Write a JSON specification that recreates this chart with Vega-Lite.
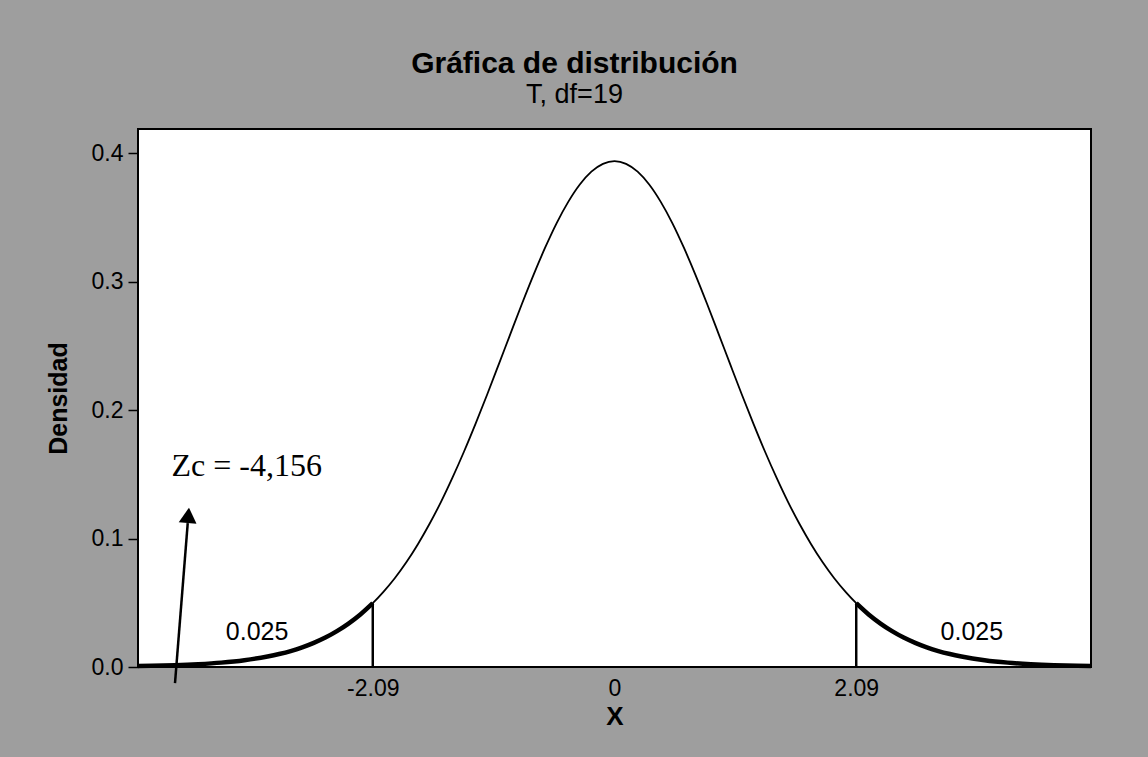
{
  "$schema": "https://vega.github.io/schema/vega-lite/v6.json",
  "width": 953,
  "height": 538,
  "autosize": "none",
  "padding": {"left": 138, "top": 129, "right": 57, "bottom": 90},
  "background": "#9e9e9e",
  "title": {
    "text": "Gráfica de distribución",
    "subtitle": "T, df=19",
    "anchor": "middle",
    "dx": -40,
    "font": "Liberation Sans",
    "fontSize": 30,
    "fontWeight": "bold",
    "color": "black",
    "subtitleFont": "Liberation Sans",
    "subtitleFontSize": 27,
    "subtitleColor": "black",
    "subtitlePadding": 3,
    "offset": 21
  },
  "datasets": {
    "curve": [
      {"x": -4.12, "y": 0.0007, "seg": "left"},
      {"x": -4.0, "y": 0.0009, "seg": "left"},
      {"x": -3.8, "y": 0.0014, "seg": "left"},
      {"x": -3.6, "y": 0.0022, "seg": "left"},
      {"x": -3.4, "y": 0.0034, "seg": "left"},
      {"x": -3.2, "y": 0.0053, "seg": "left"},
      {"x": -3.0, "y": 0.0082, "seg": "left"},
      {"x": -2.9, "y": 0.0101, "seg": "left"},
      {"x": -2.8, "y": 0.0124, "seg": "left"},
      {"x": -2.7, "y": 0.0153, "seg": "left"},
      {"x": -2.6, "y": 0.0188, "seg": "left"},
      {"x": -2.5, "y": 0.0229, "seg": "left"},
      {"x": -2.4, "y": 0.0279, "seg": "left"},
      {"x": -2.3, "y": 0.0338, "seg": "left"},
      {"x": -2.2, "y": 0.0407, "seg": "left"},
      {"x": -2.09, "y": 0.0497, "seg": "left"},
      {"x": -2.0, "y": 0.0583, "seg": "center"},
      {"x": -1.9, "y": 0.0691, "seg": "center"},
      {"x": -1.8, "y": 0.0815, "seg": "center"},
      {"x": -1.7, "y": 0.0956, "seg": "center"},
      {"x": -1.6, "y": 0.1113, "seg": "center"},
      {"x": -1.5, "y": 0.1285, "seg": "center"},
      {"x": -1.4, "y": 0.1475, "seg": "center"},
      {"x": -1.3, "y": 0.1679, "seg": "center"},
      {"x": -1.2, "y": 0.1896, "seg": "center"},
      {"x": -1.1, "y": 0.2123, "seg": "center"},
      {"x": -1.0, "y": 0.2357, "seg": "center"},
      {"x": -0.9, "y": 0.2593, "seg": "center"},
      {"x": -0.8, "y": 0.2827, "seg": "center"},
      {"x": -0.7, "y": 0.3052, "seg": "center"},
      {"x": -0.6, "y": 0.3263, "seg": "center"},
      {"x": -0.5, "y": 0.3455, "seg": "center"},
      {"x": -0.4, "y": 0.362, "seg": "center"},
      {"x": -0.3, "y": 0.3755, "seg": "center"},
      {"x": -0.2, "y": 0.3855, "seg": "center"},
      {"x": -0.1, "y": 0.3916, "seg": "center"},
      {"x": 0.0, "y": 0.3937, "seg": "center"},
      {"x": 0.1, "y": 0.3916, "seg": "center"},
      {"x": 0.2, "y": 0.3855, "seg": "center"},
      {"x": 0.3, "y": 0.3755, "seg": "center"},
      {"x": 0.4, "y": 0.362, "seg": "center"},
      {"x": 0.5, "y": 0.3455, "seg": "center"},
      {"x": 0.6, "y": 0.3263, "seg": "center"},
      {"x": 0.7, "y": 0.3052, "seg": "center"},
      {"x": 0.8, "y": 0.2827, "seg": "center"},
      {"x": 0.9, "y": 0.2593, "seg": "center"},
      {"x": 1.0, "y": 0.2357, "seg": "center"},
      {"x": 1.1, "y": 0.2123, "seg": "center"},
      {"x": 1.2, "y": 0.1896, "seg": "center"},
      {"x": 1.3, "y": 0.1679, "seg": "center"},
      {"x": 1.4, "y": 0.1475, "seg": "center"},
      {"x": 1.5, "y": 0.1285, "seg": "center"},
      {"x": 1.6, "y": 0.1113, "seg": "center"},
      {"x": 1.7, "y": 0.0956, "seg": "center"},
      {"x": 1.8, "y": 0.0815, "seg": "center"},
      {"x": 1.9, "y": 0.0691, "seg": "center"},
      {"x": 2.0, "y": 0.0583, "seg": "center"},
      {"x": 2.09, "y": 0.0497, "seg": "right"},
      {"x": 2.2, "y": 0.0407, "seg": "right"},
      {"x": 2.3, "y": 0.0338, "seg": "right"},
      {"x": 2.4, "y": 0.0279, "seg": "right"},
      {"x": 2.5, "y": 0.0229, "seg": "right"},
      {"x": 2.6, "y": 0.0188, "seg": "right"},
      {"x": 2.7, "y": 0.0153, "seg": "right"},
      {"x": 2.8, "y": 0.0124, "seg": "right"},
      {"x": 2.9, "y": 0.0101, "seg": "right"},
      {"x": 3.0, "y": 0.0082, "seg": "right"},
      {"x": 3.2, "y": 0.0053, "seg": "right"},
      {"x": 3.4, "y": 0.0034, "seg": "right"},
      {"x": 3.6, "y": 0.0022, "seg": "right"},
      {"x": 3.8, "y": 0.0014, "seg": "right"},
      {"x": 4.0, "y": 0.0009, "seg": "right"},
      {"x": 4.12, "y": 0.0007, "seg": "right"}
    ],
    "cuts": [
      {"x": -2.09, "y": 0, "y2": 0.0497},
      {"x": 2.09, "y": 0, "y2": 0.0497}
    ],
    "areas": [
      {"x": -3.09, "y": 0.027, "label": "0.025"},
      {"x": 3.09, "y": 0.027, "label": "0.025"}
    ],
    "zc": [
      {"x": -3.83, "y": 0.149, "label": "Zc = -4,156"}
    ],
    "arrow": [
      {"x": -3.80, "y": -0.0125, "x2": -3.69, "y2": 0.112}
    ],
    "head": [
      {"x": -3.685, "y": 0.118}
    ]
  },
  "layer": [
    {
      "data": {"name": "curve"},
      "mark": {"type": "line", "color": "black", "strokeWidth": 1.8, "interpolate": "monotone"},
      "encoding": {
        "x": {
          "field": "x",
          "type": "quantitative",
          "scale": {"domain": [-4.12, 4.12], "nice": false, "zero": false},
          "axis": {
            "values": [-2.09, 0, 2.09],
            "labelExpr": "datum.value == 0 ? '0' : (datum.value < 0 ? '-' : '') + format(abs(datum.value), '.2f')",
            "ticks": false,
            "labelPadding": 10,
            "labelFont": "Liberation Sans",
            "labelFontSize": 23,
            "title": "X",
            "titleFont": "Liberation Sans",
            "titleFontSize": 26,
            "titleFontWeight": "bold",
            "titlePadding": 3
          }
        },
        "y": {
          "field": "y",
          "type": "quantitative",
          "scale": {"domain": [0, 0.4187], "nice": false},
          "axis": {
            "values": [0, 0.1, 0.2, 0.3, 0.4],
            "format": ".1f",
            "tickSize": 10,
            "tickWidth": 1.5,
            "tickColor": "black",
            "labelPadding": 5,
            "labelFont": "Liberation Sans",
            "labelFontSize": 23,
            "title": "Densidad",
            "titleFont": "Liberation Sans",
            "titleFontSize": 25,
            "titleFontWeight": "bold",
            "titlePadding": 20
          }
        }
      }
    },
    {
      "data": {"name": "curve"},
      "transform": [{"filter": "datum.seg != 'center'"}],
      "mark": {"type": "line", "color": "black", "strokeWidth": 4.5, "interpolate": "monotone"},
      "encoding": {
        "x": {"field": "x", "type": "quantitative"},
        "y": {"field": "y", "type": "quantitative"},
        "detail": {"field": "seg"}
      }
    },
    {
      "data": {"name": "cuts"},
      "mark": {"type": "rule", "color": "black", "strokeWidth": 2.5},
      "encoding": {
        "x": {"field": "x", "type": "quantitative"},
        "y": {"field": "y", "type": "quantitative"},
        "y2": {"field": "y2"}
      }
    },
    {
      "data": {"name": "areas"},
      "mark": {"type": "text", "font": "Liberation Sans", "fontSize": 25, "color": "black", "align": "center", "baseline": "middle"},
      "encoding": {
        "x": {"field": "x", "type": "quantitative"},
        "y": {"field": "y", "type": "quantitative"},
        "text": {"field": "label"}
      }
    },
    {
      "data": {"name": "zc"},
      "mark": {"type": "text", "font": "Liberation Serif", "fontSize": 32, "color": "black", "align": "left", "baseline": "alphabetic"},
      "encoding": {
        "x": {"field": "x", "type": "quantitative"},
        "y": {"field": "y", "type": "quantitative"},
        "text": {"field": "label"}
      }
    },
    {
      "data": {"name": "arrow"},
      "mark": {"type": "rule", "color": "black", "strokeWidth": 2.5},
      "encoding": {
        "x": {"field": "x", "type": "quantitative"},
        "y": {"field": "y", "type": "quantitative"},
        "x2": {"field": "x2"},
        "y2": {"field": "y2"}
      }
    },
    {
      "data": {"name": "head"},
      "mark": {"type": "point", "shape": "triangle-up", "filled": true, "color": "black", "opacity": 1, "size": 320, "angle": 5},
      "encoding": {
        "x": {"field": "x", "type": "quantitative"},
        "y": {"field": "y", "type": "quantitative"}
      }
    }
  ],
  "config": {
    "view": {"fill": "white", "stroke": "black", "strokeWidth": 2},
    "axis": {"domain": false, "grid": false, "labelColor": "black", "titleColor": "black"}
  }
}
